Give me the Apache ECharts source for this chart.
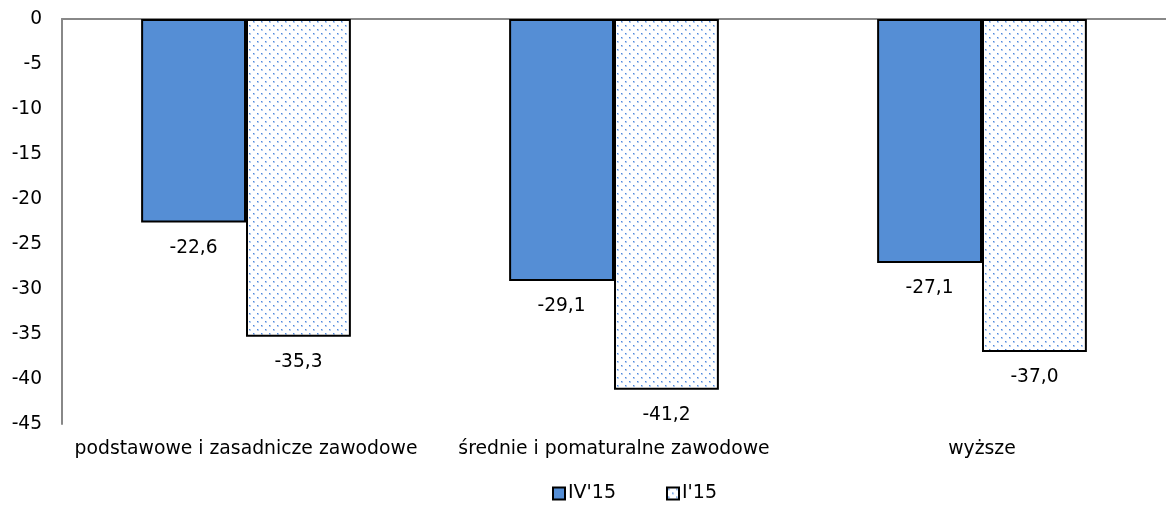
<!DOCTYPE html>
<html><head><meta charset="utf-8">
<script src="https://cdn.jsdelivr.net/npm/echarts@6/dist/echarts.min.js"></script>
<style>html,body{margin:0;padding:0;background:#fff}#c{width:1166px;height:510px}</style>
</head><body><div id="c"></div>
<script>
const categories = ['podstawowe i zasadnicze zawodowe', 'średnie i pomaturalne zawodowe', 'wyższe'];
const seriesNames = ["IV'15", "I'15"];
const valuesIV15 = [-22.6, -29.1, -27.1];
const valuesI15 = [-35.3, -41.2, -37.0];
const yMin = -45, yMax = 0, yInterval = 5;

const FONT = '"DejaVu Sans", sans-serif';
const FS = 18.6;
function makePattern() {
  const c = document.createElement('canvas');
  c.width = 8; c.height = 8;
  const g = c.getContext('2d');
  g.fillStyle = '#ffffff'; g.fillRect(0, 0, 8, 8);
  g.fillStyle = '#b4cdf1';
  g.fillRect(1, 1, 2, 2); g.fillRect(5, 5, 2, 2);
  g.fillStyle = '#4f88dc';
  g.fillRect(1, 1, 1, 1); g.fillRect(5, 5, 1, 1);
  return c;
}
const pattern = { image: makePattern(), repeat: 'repeat' };
const fmt = p => p.value.toFixed(1).replace('.', ',');
const chart = echarts.init(document.getElementById('c'));
chart.setOption({
  animation: false,
  textStyle: { fontFamily: FONT, color: '#000' },
  grid: { left: 62, right: 0, top: 19, bottom: 86 },
  legend: {
    bottom: 2, left: 547, itemWidth: 12, itemHeight: 12, itemGap: 50, icon: 'rect',
    textStyle: { fontFamily: FONT, fontSize: 19, color: '#000', padding: [0, 0, 0, -2] },
    data: seriesNames
  },
  xAxis: [{
    type: 'category', data: categories, position: 'bottom',
    axisLine: { show: false }, axisTick: { show: false },
    axisLabel: { interval: 0, fontFamily: FONT, fontSize: 18.8, color: '#000', margin: 16 }
  }, {
    type: 'category', data: categories, position: 'top',
    axisLine: { show: true, lineStyle: { color: '#888', width: 2 } },
    axisTick: { show: false }, axisLabel: { show: false }
  }],
  yAxis: {
    type: 'value', min: yMin, max: yMax, interval: yInterval,
    axisLine: { show: true, lineStyle: { color: '#888', width: 2 } },
    axisTick: { show: false }, splitLine: { show: false },
    axisLabel: { fontFamily: FONT, fontSize: FS, color: '#000', margin: 20, padding: [3, 0, 0, 0] }
  },
  series: [{
    name: seriesNames[0], type: 'bar', data: valuesIV15, barGap: '0%', barCategoryGap: '43%',
    itemStyle: { color: '#558ED5', borderColor: '#000', borderWidth: 2 },
    label: { show: true, position: 'bottom', distance: 16, fontFamily: FONT, fontSize: FS, color: '#000', formatter: fmt }
  }, {
    name: seriesNames[1], type: 'bar', data: valuesI15, barGap: '0%', barCategoryGap: '43%',
    itemStyle: { color: pattern, borderColor: '#000', borderWidth: 2 },
    label: { show: true, position: 'bottom', distance: 16, fontFamily: FONT, fontSize: FS, color: '#000', formatter: fmt }
  }]
});
</script></body></html>
